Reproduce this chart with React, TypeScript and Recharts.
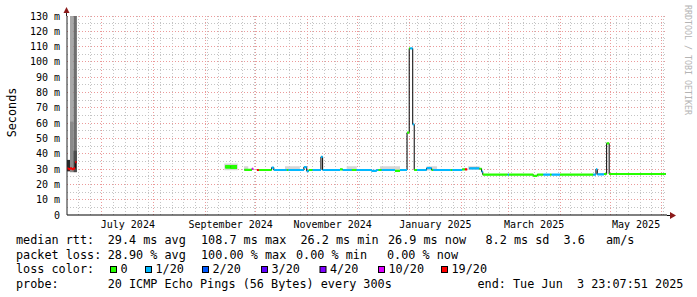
import React from 'react';
import { ComposedChart, Line, Area, XAxis, YAxis, ReferenceLine } from 'recharts';

const FONT = '"DejaVu Sans Mono", monospace';

// ---- time axis: days since 2024-07-01 00:00 ----
const timeStart = -20.9;
const timeEnd = 338.0;
const monthStartDays = [0, 31, 62, 92, 123, 153, 184, 215, 243, 274, 304, 335];
const monthLabelDays = [15.5, 77, 138, 199.5, 258.5, 319.5];
const monthLabels = ['July 2024', 'September 2024', 'November 2024', 'January 2025', 'March 2025', 'May 2025'];
const firstMonday = -14; // 2024-06-17
const lastMonday = 336;

// ---- value axis (ms) ----
const yTicks = [0, 10, 20, 30, 40, 50, 60, 70, 80, 90, 100, 110, 120, 130];
const yMinor = [5, 15, 25, 35, 45, 55, 65, 75, 85, 95, 105, 115, 125];

// ---- loss colours ----
const lossLevels = [0, 1, 2, 3, 4, 10, 19];
const lossNames = ['0', '1/20', '2/20', '3/20', '4/20', '10/20', '19/20'];
const lossColors = ['#26ff00', '#00b8ff', '#0059ff', '#5e00ff', '#7e00ff', '#dd00ff', '#ff0000'];

// ---- median rtt runs: [start day, end day, median ms, lost pings of 20] ----
const medianRuns: [number, number, number, number][] = [
  [-20.9, -20.0, 30.5, 19],
  [-20.0, -19.0, 30.0, 19],
  [-19.0, -18.0, 30.5, 19],
  [-18.0, -17.0, 30.0, 19],
  [-17.0, -16.0, 30.5, 19],
  [-16.0, -15.2, 34.5, 19],
  [73.6, 77.0, 31.6, 0],
  [77.0, 80.8, 30.8, 0],
  [85.2, 89.7, 29.5, 0],
  [89.7, 90.5, 30.2, 10],
  [92.7, 93.9, 29.4, 19],
  [93.9, 101.5, 29.4, 0],
  [101.5, 102.8, 31.0, 1],
  [102.8, 110.5, 29.4, 1],
  [110.5, 111.5, 29.4, 0],
  [111.5, 120.8, 29.4, 1],
  [120.8, 122.5, 31.3, 1],
  [122.5, 123.7, 28.7, 1],
  [123.7, 126.0, 29.4, 0],
  [126.0, 131.0, 29.4, 1],
  [131.0, 132.0, 38.0, 1],
  [132.0, 142.4, 29.4, 1],
  [142.4, 144.0, 29.8, 0],
  [144.0, 149.4, 29.4, 1],
  [149.4, 152.3, 29.4, 0],
  [152.3, 161.3, 29.4, 1],
  [161.3, 164.3, 28.8, 1],
  [164.3, 165.3, 29.4, 1],
  [165.3, 167.3, 29.4, 0],
  [167.3, 175.3, 29.4, 1],
  [175.3, 178.3, 28.8, 0],
  [178.3, 182.5, 29.4, 1],
  [182.5, 183.8, 53.8, 0],
  [183.8, 184.4, 108.8, 0],
  [184.4, 185.9, 108.8, 1],
  [185.9, 186.8, 59.2, 1],
  [186.8, 188.5, 29.4, 0],
  [188.5, 194.2, 29.4, 1],
  [194.2, 197.2, 30.6, 1],
  [197.2, 198.2, 29.4, 0],
  [198.2, 208.5, 29.4, 1],
  [208.5, 209.5, 29.4, 0],
  [209.5, 215.5, 29.4, 1],
  [215.5, 217.1, 29.8, 0],
  [217.1, 218.5, 29.8, 19],
  [219.7, 225.7, 30.5, 1],
  [225.7, 227.1, 30.2, 0],
  [227.1, 227.8, 28.3, 1],
  [227.8, 242.7, 26.4, 0],
  [242.7, 243.5, 26.4, 1],
  [243.5, 258.0, 26.4, 0],
  [258.0, 260.4, 25.6, 0],
  [260.4, 264.0, 26.4, 0],
  [264.0, 268.0, 26.4, 1],
  [268.0, 269.0, 26.4, 0],
  [269.0, 274.0, 26.4, 1],
  [274.0, 293.9, 26.4, 0],
  [293.9, 295.5, 26.4, 1],
  [295.5, 296.3, 29.8, 1],
  [296.3, 300.3, 26.6, 1],
  [300.3, 301.9, 26.8, 0],
  [301.9, 303.4, 46.8, 0],
  [303.4, 337.2, 26.8, 0],
];

// ---- spread of the median inside a run: [start day, end day, low ms, high ms, loss] ----
const medianSpread: [number, number, number, number, number][] = [
  [73.8, 80.8, 30.2, 32.6, 0],
  [303.4, 337.2, 26.1, 27.5, 0],
];

// ---- smoke bands: [start day, end day, low ms, high ms, shade index] ----
const smokeShades = ['#d6d6d6', '#a8a8a8', '#6e6e6e', '#8a8a8a', '#4c4c4c', '#2a2a2a'];
const smokeBands: [number, number, number, number, number][] = [
  [-20.9, -19.1, 28.5, 36, 5],
  [-19.1, -17.0, 28, 130, 1],
  [-17.0, -15.0, 28, 130, 2],
  [-19.1, -17.0, 28, 61, 3],
  [-17.0, -15.0, 28, 42, 4],
  [73.2, 81.2, 29.2, 33.6, 0],
  [85.0, 87.5, 29.0, 31.8, 0],
  [109.5, 118.4, 29.0, 31.8, 0],
  [146.4, 152.4, 29.0, 31.8, 0],
  [166.3, 178.3, 29.0, 31.8, 0],
  [194.2, 200.4, 29.0, 31.8, 0],
  [219.0, 226.0, 29.5, 31.8, 0],
];

type Pt = { t: number; v: number | number[] | null };
type Seg = { s: number; e: number; v: number | number[] };

function buildSeries(segs: Seg[], breakAll: boolean): Pt[] {
  const out: Pt[] = [];
  let prevE: number | null = null;
  for (const r of segs) {
    if (prevE !== null && (breakAll || r.s > prevE + 1e-6)) out.push({ t: (prevE + r.s) / 2, v: null });
    out.push({ t: r.s, v: r.v }, { t: r.e, v: r.v });
    prevE = r.e;
  }
  return out;
}

const medianAll = buildSeries(medianRuns.map(([s, e, m]) => ({ s, e, v: m })), false);
const medianByLoss = lossLevels.map((lv) =>
  buildSeries(medianRuns.filter((r) => r[3] === lv).map(([s, e, m]) => ({ s, e, v: m })), true)
);
const spreadByLoss = lossLevels.map((lv) =>
  buildSeries(medianSpread.filter((r) => r[4] === lv).map(([s, e, lo, hi]) => ({ s, e, v: [lo, hi] })), true)
);
const smokeByShade = smokeShades.map((_, i) =>
  buildSeries(smokeBands.filter((b) => b[4] === i).map(([s, e, lo, hi]) => ({ s, e, v: [lo, hi] })), true)
);

const weekly: number[] = [];
for (let d = firstMonday; d <= lastMonday; d += 7) weekly.push(d);

const GREY = '#c4c4c4';
const RED = '#eb9a9a';
const LEG = 11.8;

const legendRow1: [number, string][] = [
  [16, 'median rtt:'], [107.7, '29.4 ms avg'], [201, '108.7 ms max'], [300.5, '26.2 ms min'],
  [388, '26.9 ms now'], [485.5, '8.2 ms sd'], [563.5, '3.6'], [606, 'am/s'],
];
const legendRow2: [number, string][] = [
  [16, 'packet loss:'], [107.7, '28.90 % avg'], [201, '100.00 % max'], [296, '0.00 % min'], [387, '0.00 % now'],
];
const legendRow4: [number, string][] = [
  [16, 'probe:'], [107.7, '20 ICMP Echo Pings (56 Bytes) every 300s'], [477.5, 'end: Tue Jun  3 23:07:51 2025'],
];
const swatchX = [110.5, 145.5, 202.5, 261.5, 320, 378.5, 441.5];

export default function App() {
  return (
    <div style={{ position: 'absolute', left: 0, top: 0, width: 697, height: 297, background: '#fff' }}>
      <ComposedChart width={697} height={297} margin={{ top: 16, right: 30, bottom: 62, left: 7 }}>
        <XAxis
          type="number"
          dataKey="t"
          domain={[timeStart, timeEnd]}
          allowDataOverflow
          ticks={monthLabelDays}
          interval={0}
          tickFormatter={(v: number) => monthLabels[monthLabelDays.indexOf(v)] ?? ''}
          height={20}
          tickLine={false}
          tickSize={0}
          tickMargin={6}
          axisLine={{ stroke: '#000' }}
          tick={{ fontFamily: FONT, fontSize: 10, fill: '#000' }}
        />
        <YAxis
          type="number"
          domain={[0, 130]}
          allowDataOverflow
          ticks={yTicks}
          interval={0}
          width={60}
          tickLine={false}
          tickSize={2}
          tickMargin={5}
          axisLine={{ stroke: '#222' }}
          tickFormatter={(v: number) => (v === 0 ? '0' : `${v} m`)}
          tick={{ fontFamily: FONT, fontSize: 10, fill: '#000' }}
        />
        {yMinor.map((v) => (
          <ReferenceLine key={'hm' + v} y={v} stroke={GREY} strokeDasharray="1 2" shapeRendering="crispEdges" zIndex={-90} />
        ))}
        {weekly.map((d) => (
          <ReferenceLine key={'vw' + d} x={d} stroke={GREY} strokeDasharray="1 2" shapeRendering="crispEdges" zIndex={-90} />
        ))}
        {yTicks.filter((v) => v > 0).map((v) => (
          <ReferenceLine key={'hM' + v} y={v} stroke={RED} strokeDasharray="1 2" shapeRendering="crispEdges" zIndex={-80} />
        ))}
        {monthStartDays.map((d) => (
          <ReferenceLine key={'vM' + d} x={d} stroke={RED} strokeDasharray="1 2" shapeRendering="crispEdges" zIndex={-80} />
        ))}
        {smokeByShade.map((data, i) => (
          <Area
            key={'smoke' + i}
            data={data}
            dataKey="v"
            type="linear"
            stroke="none"
            fill={smokeShades[i]}
            fillOpacity={1}
            connectNulls={false}
            isAnimationActive={false}
            activeDot={false}
            dot={false}
          />
        ))}
        <Line
          data={medianAll}
          dataKey="v"
          type="linear"
          stroke="#000"
          strokeWidth={1}
          dot={false}
          activeDot={false}
          connectNulls={false}
          isAnimationActive={false}
        />
        {spreadByLoss.map((data, i) => (
          <Area
            key={'spread' + i}
            data={data}
            dataKey="v"
            type="linear"
            stroke="none"
            fill={lossColors[i]}
            fillOpacity={1}
            connectNulls={false}
            isAnimationActive={false}
            activeDot={false}
            dot={false}
          />
        ))}
        {medianByLoss.map((data, i) => (
          <Line
            key={'loss' + i}
            data={data}
            dataKey="v"
            type="linear"
            stroke={lossColors[i]}
            strokeWidth={2.2}
            dot={false}
            activeDot={false}
            connectNulls={false}
            isAnimationActive={false}
          />
        ))}
      </ComposedChart>
      <svg
        width={697}
        height={297}
        style={{ position: 'absolute', left: 0, top: 0, pointerEvents: 'none' }}
        fontFamily={FONT}
      >
        {/* axis arrows */}
        <line x1={667} y1={215.5} x2={671} y2={215.5} stroke="#000" />
        <polygon points="670,212 676,215.5 670,219" fill="#8b1a1a" />
        <line x1={66.5} y1={10} x2={66.5} y2={16} stroke="#222" />
        <polygon points="63.5,13 66.5,7 69.5,13" fill="#8b1a1a" />
        {/* y label */}
        <text x={16} y={112.5} fontSize={LEG} textAnchor="middle" transform="rotate(-90 16 112.5)" fill="#000">
          Seconds
        </text>
        {/* watermark */}
        <text x={685} y={60} fontSize={8.3} textAnchor="middle" transform="rotate(90 685 60)" fill="#b4b4b4">
          RRDTOOL / TOBI OETIKER
        </text>
        {legendRow1.map(([x, s], i) => (
          <text key={'r1' + i} x={x} y={244} fontSize={LEG} fill="#000" style={{ whiteSpace: 'pre' }}>{s}</text>
        ))}
        {legendRow2.map(([x, s], i) => (
          <text key={'r2' + i} x={x} y={258.5} fontSize={LEG} fill="#000" style={{ whiteSpace: 'pre' }}>{s}</text>
        ))}
        <text x={16} y={273} fontSize={LEG} fill="#000">loss color:</text>
        {lossNames.map((n, i) => (
          <g key={'sw' + i}>
            <rect x={swatchX[i]} y={266.5} width={6} height={6} fill={lossColors[i]} stroke="#000" strokeWidth={1} />
            <text x={swatchX[i] + 10} y={273} fontSize={LEG} fill="#000">{n}</text>
          </g>
        ))}
        {legendRow4.map(([x, s], i) => (
          <text key={'r4' + i} x={x} y={287.5} fontSize={LEG} fill="#000" style={{ whiteSpace: 'pre' }}>{s}</text>
        ))}
      </svg>
    </div>
  );
}
